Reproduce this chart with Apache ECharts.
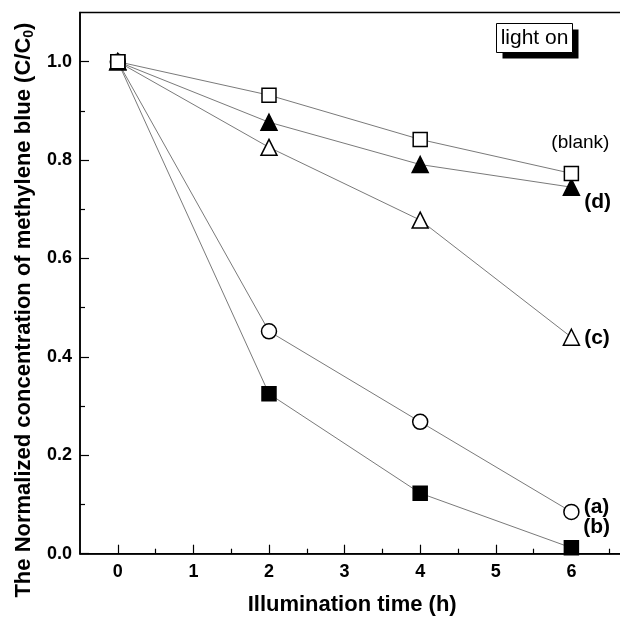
<!DOCTYPE html>
<html>
<head>
<meta charset="utf-8">
<script src="https://cdn.jsdelivr.net/npm/echarts@6/dist/echarts.min.js"></script>
<style>
  html, body { margin: 0; padding: 0; background: #fff; }
  #chart { width: 620px; height: 617px; }
</style>
</head>
<body>
<div id="chart"></div>
<script>
// illumination time (h)
const times = [0, 2, 4, 6]
// C/C0 for each sample
const blank = [1.0, 0.932, 0.842, 0.773]
const sampleD = [1.0, 0.877, 0.791, 0.745]
const sampleC = [1.0, 0.826, 0.678, 0.44]
const sampleA = [1.0, 0.452, 0.268, 0.085]
const sampleB = [1.0, 0.325, 0.123, 0.012]

const xMajorTicks = [0, 1, 2, 3, 4, 5, 6]
const xMinorTicks = [0.5, 1.5, 2.5, 3.5, 4.5, 5.5, 6.5]
const yMajorTicks = [0, 0.2, 0.4, 0.6, 0.8, 1.0]
const yMinorTicks = [0.1, 0.3, 0.5, 0.7, 0.9]

const font = 'Liberation Sans, Arial, Helvetica, sans-serif'
const lineColor = '#7a7a7a'

const chart = echarts.init(document.getElementById('chart'))

// build a series, the label sits on the last point
function makeSeries(name, values, symbol, size, filled, label) {
  const data = values.map((v, i) => {
    const item = { value: [times[i], v] }
    if (i === values.length - 1 && label) {
      item.label = Object.assign({
        show: true,
        formatter: label.text,
        color: '#000',
        fontFamily: font,
        fontSize: 21,
        fontWeight: 'bold'
      }, label.style)
    }
    return item
  })
  return {
    name: name,
    type: 'line',
    xAxisIndex: 0,
    yAxisIndex: 0,
    data: data,
    symbol: symbol,
    symbolSize: size,
    lineStyle: { color: lineColor, width: 1 },
    itemStyle: {
      color: filled ? '#000' : '#fff',
      borderColor: '#000',
      borderWidth: 1.5
    },
    emphasis: { disabled: true },
    z: 2
  }
}

const option = {
  animation: false,
  backgroundColor: '#fff',
  grid: {
    left: 80,
    top: 12.5,
    width: 544.3,
    height: 541.2,
    containLabel: false,
    outerBoundsMode: 'none',
    show: true,
    borderColor: '#000',
    borderWidth: 1.5,
    backgroundColor: 'transparent'
  },
  xAxis: [
    {
      type: 'value',
      min: -0.5,
      max: 6.7,
      name: 'Illumination time (h)',
      nameLocation: 'middle',
      nameGap: 40,
      nameTextStyle: { fontFamily: font, fontSize: 22, fontWeight: 'bold', color: '#000' },
      axisLine: { onZero: false, lineStyle: { color: '#000', width: 1.5 } },
      axisTick: { inside: true, length: 9, customValues: xMajorTicks, lineStyle: { color: '#000', width: 1.2 } },
      axisLabel: {
        customValues: xMajorTicks,
        margin: 9,
        fontFamily: font,
        fontSize: 18,
        fontWeight: 'bold',
        color: '#000'
      },
      splitLine: { show: false }
    },
    {
      type: 'value',
      min: -0.5,
      max: 6.7,
      position: 'bottom',
      axisLine: { show: false, onZero: false },
      axisTick: { inside: true, length: 5, customValues: xMinorTicks, lineStyle: { color: '#000', width: 1.2 } },
      axisLabel: { show: false },
      splitLine: { show: false }
    }
  ],
  yAxis: [
    {
      type: 'value',
      min: 0,
      max: 1.1,
      name: 'The Normalized concentration of methylene blue (C/C{sub|0})',
      nameLocation: 'middle',
      nameGap: 42,
      nameTextStyle: {
        fontFamily: font,
        fontSize: 22,
        fontWeight: 'bold',
        color: '#000',
        padding: [0, 54, 0, 0],
        rich: {
          sub: { fontFamily: font, fontSize: 14, fontWeight: 'bold', color: '#000', padding: [10, 0, 0, 0] }
        }
      },
      axisLine: { onZero: false, lineStyle: { color: '#000', width: 1.5 } },
      axisTick: { inside: true, length: 9, customValues: yMajorTicks, lineStyle: { color: '#000', width: 1.2 } },
      axisLabel: {
        customValues: yMajorTicks,
        margin: 8,
        fontFamily: font,
        fontSize: 18,
        fontWeight: 'bold',
        color: '#000',
        formatter: v => v.toFixed(1)
      },
      splitLine: { show: false }
    },
    {
      type: 'value',
      min: 0,
      max: 1.1,
      position: 'left',
      axisLine: { show: false, onZero: false },
      axisTick: { inside: true, length: 5, customValues: yMinorTicks, lineStyle: { color: '#000', width: 1.2 } },
      axisLabel: { show: false },
      splitLine: { show: false }
    }
  ],
  graphic: [
    {
      type: 'group',
      left: 496,
      top: 23,
      children: [
        { type: 'rect', shape: { x: 6, y: 6, width: 76, height: 29 }, style: { fill: '#000' } },
        { type: 'rect', shape: { x: 0, y: 0, width: 76, height: 29 }, style: { fill: '#fff', stroke: '#000', lineWidth: 1 } },
        {
          type: 'text',
          x: 38,
          y: 15,
          style: {
            text: 'light on',
            fontFamily: font,
            fontSize: 21,
            fill: '#000',
            align: 'center',
            verticalAlign: 'middle'
          }
        }
      ]
    }
  ],
  series: [
    makeSeries('(b)', sampleB, 'rect', 14, true, { text: '(b)', style: { position: 'right', distance: 4, offset: [0, -21] } }),
    makeSeries('(a)', sampleA, 'circle', 15, false, { text: '(a)', style: { position: 'right', distance: 4, offset: [0, -5] } }),
    makeSeries('(c)', sampleC, 'triangle', 16, false, { text: '(c)', style: { position: 'right', distance: 4, offset: [0, 1] } }),
    makeSeries('(d)', sampleD, 'triangle', 16, true, { text: '(d)', style: { position: 'right', distance: 4, offset: [0, 15] } }),
    makeSeries('(blank)', blank, 'rect', 14, false, {
      text: '(blank)',
      style: { position: 'top', distance: 5, offset: [9, -8], fontSize: 19, fontWeight: 'normal' }
    })
  ]
}

chart.setOption(option)
</script>
</body>
</html>
